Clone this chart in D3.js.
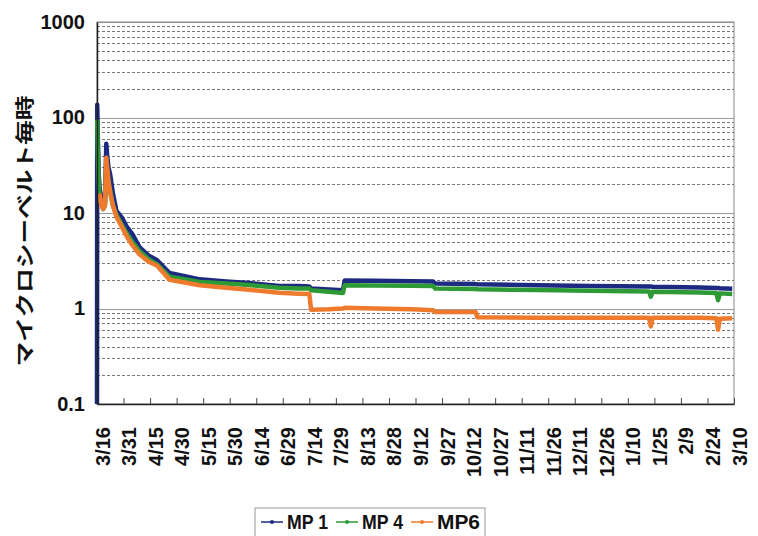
<!DOCTYPE html>
<html lang='ja'>
<head>
  <meta charset='UTF-8'>
  <title>マイクロシーベルト毎時</title>
  <style>
  body { margin: 0; background: #fff; }
  svg { display: block; }
  text { font-family: 'Liberation Sans', Arial, sans-serif; font-weight: bold; fill: #111; }
  .title { font-family: 'Noto Sans CJK JP', sans-serif; font-size: 19px; }
  </style>
  <script src="https://d3js.org/d3.v7.min.js"></script>
</head>
<body>
  <script>

  // readings (uSv/h) at each time stamp
  var times = [
    '2011-03-16 00', '2011-03-16 03', '2011-03-16 12', '2011-03-17 00', '2011-03-17 12',
    '2011-03-18 12', '2011-03-19 12', '2011-03-20 12', '2011-03-21 06', '2011-03-21 18',
    '2011-03-22 12', '2011-03-23 12', '2011-03-25 00', '2011-03-27 00', '2011-03-30 00',
    '2011-04-02 00', '2011-04-05 00', '2011-04-09 00', '2011-04-14 00', '2011-04-19 00',
    '2011-04-26 00', '2011-05-06 00', '2011-05-13 00', '2011-05-28 00', '2011-06-10 00',
    '2011-06-27 00', '2011-07-08 00', '2011-07-14 00', '2011-07-15 00', '2011-07-25 00',
    '2011-08-02 00', '2011-08-03 00', '2011-08-20 00', '2011-09-10 00', '2011-09-22 00',
    '2011-09-23 00', '2011-10-16 00', '2011-10-17 00', '2011-11-20 00', '2011-12-20 00',
    '2012-01-22 00', '2012-01-23 00', '2012-01-24 00', '2012-02-20 00', '2012-02-29 00',
    '2012-03-01 00', '2012-03-02 00', '2012-03-09 00'
  ];
  var mp1 = [
    0.1, 136, 60, 25, 18, 14, 12, 13, 53, 40,
    30, 25, 16, 10.5, 9, 7.1, 6.0, 4.4, 3.6, 3.2,
    2.35, 2.15, 2.02, 1.92, 1.85, 1.72, 1.72, 1.70, 1.62, 1.58,
    1.55, 1.97, 1.95, 1.93, 1.92, 1.83, 1.80, 1.79, 1.75, 1.72,
    1.70, 1.70, 1.69, 1.66, 1.64, 1.64, 1.63, 1.61
  ];
  var mp4 = [
    null, 95, 40, 20, 14, 12, 11, 12, 30, 28,
    20, 17, 12, 9.5, 7.5, 6.0, 5.0, 4.0, 3.3, 2.9,
    2.15, 2.0, 1.9, 1.83, 1.76, 1.65, 1.62, 1.62, 1.55, 1.50,
    1.45, 1.75, 1.74, 1.73, 1.72, 1.62, 1.60, 1.59, 1.56, 1.53,
    1.51, 1.33, 1.50, 1.47, 1.45, 1.22, 1.44, 1.42
  ];
  var mp6 = [
    null, null, null, null, 16, 12, 11, 12, 38, 30,
    22, 16, 12, 9.1, 7.2, 5.6, 4.6, 3.7, 3.1, 2.8,
    2.0, 1.85, 1.75, 1.65, 1.57, 1.46, 1.43, 1.42, 0.97, 0.98,
    1.0, 1.02, 1.0, 0.98, 0.96, 0.92, 0.92, 0.81, 0.80, 0.80,
    0.80, 0.65, 0.80, 0.80, 0.79, 0.60, 0.78, 0.79
  ];
  var seriesNames = ['MP 1', 'MP 4', 'MP6'];
  var seriesColors = ['#1d2a82', '#2e9a36', '#ee7a2e'];

  var tickDates = [
    '2011-03-16', '2011-03-31', '2011-04-15', '2011-04-30', '2011-05-15', '2011-05-30',
    '2011-06-14', '2011-06-29', '2011-07-14', '2011-07-29', '2011-08-13', '2011-08-28',
    '2011-09-12', '2011-09-27', '2011-10-12', '2011-10-27', '2011-11-11', '2011-11-26',
    '2011-12-11', '2011-12-26', '2012-01-10', '2012-01-25', '2012-02-09', '2012-02-24',
    '2012-03-10'
  ];
  var yTicks = [0.1, 1, 10, 100, 1000];

  var W = 758, H = 536;
  var margin = { top: 22, right: 24, bottom: 132, left: 97 };
  var width = W - margin.left - margin.right;
  var height = H - margin.top - margin.bottom;

  var parseTime = d3.timeParse('%Y-%m-%d %H');
  var parseDay = d3.timeParse('%Y-%m-%d');
  var fmtTick = d3.timeFormat('%-m/%-d');

  var svg = d3.select('body').append('svg').attr('width', W).attr('height', H);
  var g = svg.append('g').attr('transform', 'translate(' + margin.left + ',' + margin.top + ')');

  var x = d3.scaleTime()
    .domain([parseDay(tickDates[0]), parseDay(tickDates[tickDates.length - 1])])
    .range([0, width]);
  var y = d3.scaleLog().domain([0.1, 1000]).range([height, 0]);

  // grid: dashed minor lines, solid decades
  var minor = y.ticks().filter(function (v) { return yTicks.indexOf(+v.toPrecision(3)) < 0; });
  g.selectAll('.minor').data(minor).enter().append('line')
    .attr('x1', 0).attr('x2', width)
    .attr('y1', function (d) { return Math.round(y(d)) + 0.5; })
    .attr('y2', function (d) { return Math.round(y(d)) + 0.5; })
    .attr('stroke', '#777').attr('stroke-dasharray', '3,2').attr('stroke-width', 1);
  g.selectAll('.major').data(yTicks).enter().append('line')
    .attr('x1', 0).attr('x2', width)
    .attr('y1', function (d) { return Math.round(y(d)) + 0.5; })
    .attr('y2', function (d) { return Math.round(y(d)) + 0.5; })
    .attr('stroke', '#999').attr('stroke-width', 1);

  // frame
  g.append('rect').attr('width', width).attr('height', height)
    .attr('fill', 'none').attr('stroke', '#888');

  // series
  var rows = times.map(function (t, i) {
    return { t: parseTime(t), v: [mp1[i], mp4[i], mp6[i]] };
  });
  seriesNames.forEach(function (name, k) {
    var line = d3.line()
      .defined(function (d) { return d.v[k] != null; })
      .x(function (d) { return x(d.t); })
      .y(function (d) { return y(d.v[k]); });
    g.append('path').datum(rows)
      .attr('fill', 'none')
      .attr('stroke', seriesColors[k])
      .attr('stroke-width', 4.5)
      .attr('stroke-linejoin', 'round')
      .attr('d', line);
  });

  // x axis: inner ticks, rotated labels
  var xAxis = g.append('g')
    .attr('transform', 'translate(0,' + height + ')')
    .call(d3.axisBottom(x).tickValues(tickDates.map(parseDay)).tickSizeInner(-6).tickSizeOuter(0).tickFormat(fmtTick));
  xAxis.select('.domain').attr('stroke', '#222').attr('stroke-width', 1.5);
  xAxis.selectAll('.tick line').attr('stroke', '#444');
  xAxis.selectAll('.tick text')
    .attr('font-size', 20)
    .attr('font-family', null)
    .attr('transform', 'translate(5,23) rotate(-90)')
    .attr('x', 0).attr('y', 0).attr('dy', '0.35em')
    .attr('text-anchor', 'end');

  // y axis
  var yAxis = g.append('g')
    .call(d3.axisLeft(y).tickValues(yTicks).tickSize(0).tickPadding(12)
      .tickFormat(function (d) { return String(d); }));
  yAxis.select('.domain').attr('stroke', '#222').attr('stroke-width', 1.5);
  yAxis.selectAll('.tick text').attr('font-size', 20).attr('font-family', null);

  svg.append('text')
    .attr('class', 'title')
    .attr('text-anchor', 'middle')
    .attr('transform', 'translate(25,231) rotate(-90) scale(1.3,1)')
    .attr('dy', '0.35em')
    .text('マイクロシーベルト毎時');

  // legend
  var legendG = svg.append('g').attr('transform', 'translate(255,508)');
  legendG.append('rect').attr('width', 230).attr('height', 40)
    .attr('fill', '#fff').attr('stroke', '#999');
  var items = legendG.selectAll('.item').data(seriesNames).enter().append('g')
    .attr('transform', function (d, i) { return 'translate(' + [6, 81, 156][i] + ',14)'; });
  items.append('line').attr('x1', 0).attr('x2', 22).attr('y1', 0).attr('y2', 0)
    .attr('stroke', function (d, i) { return seriesColors[i]; }).attr('stroke-width', 1.5);
  items.append('circle').attr('cx', 11).attr('r', 2)
    .attr('fill', function (d, i) { return seriesColors[i]; });
  items.append('text').attr('x', 26).attr('dy', '0.36em')
    .attr('font-size', 20)
    .attr('textLength', function (d) { return d === 'MP6' ? 43 : 41; })
    .attr('lengthAdjust', 'spacingAndGlyphs')
    .text(function (d) { return d; });
  </script>
</body>
</html>
